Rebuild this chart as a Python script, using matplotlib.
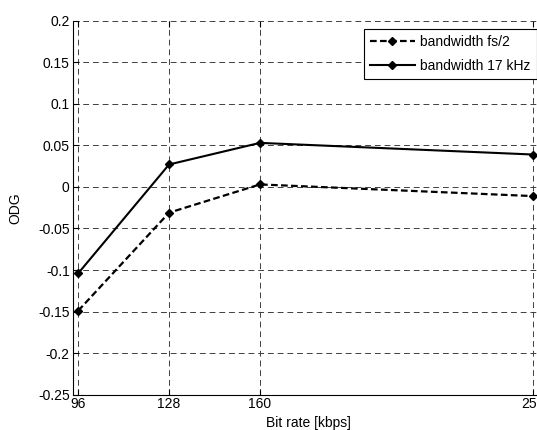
import matplotlib.pyplot as plt
import numpy as np

bitrate = [96, 128, 160, 256]
odg_fs2 = [-0.149, -0.031, 0.003, -0.011]
odg_17k = [-0.104, 0.027, 0.053, 0.039]
yticks = np.arange(-0.25, 0.2001, 0.05)
ytick_labels = ['-0.25', '-0.2', '-0.15', '-0.1', '-0.05', '0', '0.05', '0.1', '0.15', '0.2']

plt.rcParams['font.family'] = ['Liberation Sans', 'DejaVu Sans']
plt.rcParams['font.size'] = 10

fig = plt.figure(figsize=(5.37, 4.30), dpi=100)
# axes runs past the right edge of the figure, like the cropped original
ax = fig.add_axes([72.5 / 537, 35.3 / 430, 471.5 / 537, 374.0 / 430])

ax.plot(bitrate, odg_fs2, color='black', linestyle='--', linewidth=1.6,
        marker='D', markersize=4, dashes=(3, 1.5), label='bandwidth fs/2')
ax.plot(bitrate, odg_17k, color='black', linestyle='-', linewidth=1.5,
        marker='D', markersize=4, label='bandwidth 17 kHz')

ax.set_xlim(94, 260)
ax.set_ylim(-0.25, 0.2)
ax.set_xticks(bitrate)
ax.set_yticks(yticks)
ax.set_yticklabels(ytick_labels)

ax.grid(True, color='#404040', linestyle=(0, (6, 4)), linewidth=0.7)
ax.spines['top'].set_visible(False)
ax.spines['right'].set_visible(False)
ax.tick_params(direction='in', length=4, width=0.8, top=True, colors='black', pad=2)

ax.set_xlabel('Bit rate [kbps]', labelpad=3)
ax.set_ylabel('ODG', labelpad=11)

leg = ax.legend(loc='upper left', bbox_to_anchor=(364 / 537, 1 - 29 / 430),
                bbox_transform=fig.transFigure, fancybox=False, framealpha=1,
                edgecolor='black', borderaxespad=0, handlelength=3.2,
                handletextpad=0.4, labelspacing=0.7, borderpad=0.45)
leg.get_frame().set_linewidth(0.8)

fig.savefig('out.png', dpi=100)
